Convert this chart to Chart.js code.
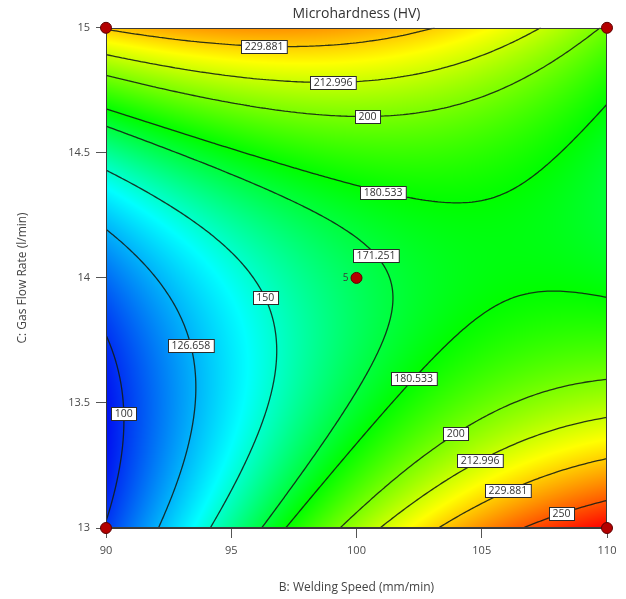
<!DOCTYPE html>
<html lang="en">
<head>
<meta charset="UTF-8">
<title>Microhardness (HV)</title>
<script src="https://cdn.jsdelivr.net/npm/chart.js"></script>
<style>
  html, body { margin: 0; padding: 0; background: #fff; }
  canvas { display: block; }
</style>
</head>
<body>
<canvas id="contourChart" width="626" height="599"></canvas>
<script>
// factor ranges and axis ticks
const speedRange = [90, 110];
const flowRange = [13, 15];
const speedTicks = [90, 95, 100, 105, 110];
const flowTicks = [13, 13.5, 14, 14.5, 15];

// fitted quadratic in coded units: [b0, B, C, BC, B^2, C^2]
const coeffs = [167.3, 32.8, 15.8, -49.1, -22.5, 54.0];

// contour levels
const levels = [100, 126.658, 150, 171.251, 180.533, 200, 212.996, 229.881, 250];

// design points and replicate counts
const designSpeed = [90, 110, 90, 110, 100];
const designFlow = [13, 13, 15, 15, 14];
const designCount = [1, 1, 1, 1, 5];

// rough spots for the level boxes (speed, flow), snapped onto the line later
const labelLevel = [229.881, 212.996, 200, 180.533, 171.251, 150, 126.658, 100, 180.533, 200, 212.996, 229.881, 250];
const labelSpeed = [96.3, 99.0, 100.4, 101.1, 100.96, 96.45, 93.4, 90.6, 102.07, 103.8, 104.8, 105.9, 108.05];
const labelFlow = [14.96, 14.81, 14.675, 14.38, 14.10, 13.93, 13.73, 13.45, 13.62, 13.40, 13.29, 13.18, 13.08];

// blue -> cyan -> green -> yellow -> red
const rampStops = [0, 0.29, 0.51, 0.75, 1];
const rampColors = [[0, 16, 240], [0, 255, 255], [0, 255, 0], [255, 255, 0], [255, 0, 0]];

const FONT = '"Segoe UI", "Open Sans", "Noto Sans", sans-serif';

function hardness(b, c) {
    const x = (b - 100) / 10, y = c - 14;
    const k = coeffs;
    return k[0] + k[1] * x + k[2] * y + k[3] * x * y + k[4] * x * x + k[5] * y * y;
}

function ramp(t) {
    t = Math.max(0, Math.min(1, t));
    let i = 0;
    while (i < rampStops.length - 2 && t > rampStops[i + 1]) i++;
    const f = (t - rampStops[i]) / (rampStops[i + 1] - rampStops[i]);
    const a = rampColors[i], b = rampColors[i + 1];
    return [a[0] + (b[0] - a[0]) * f, a[1] + (b[1] - a[1]) * f, a[2] + (b[2] - a[2]) * f];
}

// marching squares over a grid in data units
function contourSegments(level, n) {
    const segs = [];
    const bs = [], cs = [];
    for (let i = 0; i <= n; i++) {
        bs.push(speedRange[0] + (speedRange[1] - speedRange[0]) * i / n);
        cs.push(flowRange[0] + (flowRange[1] - flowRange[0]) * i / n);
    }
    const v = [];
    for (let j = 0; j <= n; j++) {
        v.push([]);
        for (let i = 0; i <= n; i++) v[j].push(hardness(bs[i], cs[j]));
    }
    const cross = (b1, c1, v1, b2, c2, v2) => {
        const t = (level - v1) / (v2 - v1);
        return [b1 + (b2 - b1) * t, c1 + (c2 - c1) * t];
    };
    for (let j = 0; j < n; j++) {
        for (let i = 0; i < n; i++) {
            const v00 = v[j][i], v10 = v[j][i + 1], v11 = v[j + 1][i + 1], v01 = v[j + 1][i];
            const pts = [];
            if ((v00 >= level) !== (v10 >= level)) pts.push(cross(bs[i], cs[j], v00, bs[i + 1], cs[j], v10));
            if ((v10 >= level) !== (v11 >= level)) pts.push(cross(bs[i + 1], cs[j], v10, bs[i + 1], cs[j + 1], v11));
            if ((v11 >= level) !== (v01 >= level)) pts.push(cross(bs[i + 1], cs[j + 1], v11, bs[i], cs[j + 1], v01));
            if ((v01 >= level) !== (v00 >= level)) pts.push(cross(bs[i], cs[j + 1], v01, bs[i], cs[j], v00));
            if (pts.length >= 2) segs.push([pts[0], pts[1]]);
            if (pts.length === 4) segs.push([pts[2], pts[3]]);
        }
    }
    return segs;
}

const surfacePlugin = {
    id: 'surface',
    beforeDatasetsDraw(chart) {
        const { ctx, chartArea: a, scales: { x, y } } = chart;
        const w = Math.round(a.right - a.left), h = Math.round(a.bottom - a.top);

        // shaded response surface
        const vals = new Float32Array(w * h);
        let lo = Infinity, hi = -Infinity;
        for (let j = 0; j < h; j++) {
            const c = y.getValueForPixel(a.top + j + 0.5);
            for (let i = 0; i < w; i++) {
                const val = hardness(x.getValueForPixel(a.left + i + 0.5), c);
                vals[j * w + i] = val;
                if (val < lo) lo = val;
                if (val > hi) hi = val;
            }
        }
        const off = document.createElement('canvas');
        off.width = w; off.height = h;
        const octx = off.getContext('2d');
        const img = octx.createImageData(w, h);
        for (let k = 0; k < w * h; k++) {
            const rgb = ramp((vals[k] - lo) / (hi - lo));
            img.data[k * 4] = rgb[0];
            img.data[k * 4 + 1] = rgb[1];
            img.data[k * 4 + 2] = rgb[2];
            img.data[k * 4 + 3] = 255;
        }
        octx.putImageData(img, 0, 0);
        ctx.save();
        ctx.drawImage(off, a.left, a.top, a.right - a.left, a.bottom - a.top);

        // contour lines
        ctx.beginPath();
        ctx.rect(a.left, a.top, a.right - a.left, a.bottom - a.top);
        ctx.clip();
        const lines = {};
        ctx.strokeStyle = 'rgba(18, 28, 20, 0.88)';
        ctx.lineWidth = 1.3;
        ctx.lineCap = 'round';
        levels.forEach(level => {
            const segs = contourSegments(level, 160).map(s => s.map(p => [x.getPixelForValue(p[0]), y.getPixelForValue(p[1])]));
            lines[level] = segs;
            ctx.beginPath();
            segs.forEach(s => { ctx.moveTo(s[0][0], s[0][1]); ctx.lineTo(s[1][0], s[1][1]); });
            ctx.stroke();
        });
        ctx.restore();

        // level value boxes
        ctx.save();
        ctx.font = '10.5px ' + FONT;
        ctx.textAlign = 'center';
        ctx.textBaseline = 'middle';
        labelLevel.forEach((level, i) => {
            const px = x.getPixelForValue(labelSpeed[i]), py = y.getPixelForValue(labelFlow[i]);
            let best = null, bestD = Infinity;
            (lines[level] || []).forEach(s => {
                const mx = (s[0][0] + s[1][0]) / 2, my = (s[0][1] + s[1][1]) / 2;
                const d = (mx - px) ** 2 + (my - py) ** 2;
                if (d < bestD) { bestD = d; best = [mx, my]; }
            });
            if (!best) return;
            const text = String(level);
            const tw = ctx.measureText(text).width + 7, th = 13;
            const bx = Math.round(best[0] - tw / 2) + 0.5, by = Math.round(best[1] - th / 2) + 0.5;
            ctx.fillStyle = '#ffffff';
            ctx.fillRect(bx, by, tw, th);
            ctx.strokeStyle = '#2b2b2b';
            ctx.lineWidth = 1;
            ctx.strokeRect(bx, by, tw, th);
            ctx.fillStyle = '#333333';
            ctx.fillText(text, best[0], best[1] + 0.5);
        });

        // plot frame
        ctx.strokeStyle = '#3a3a3a';
        ctx.lineWidth = 1;
        ctx.strokeRect(Math.round(a.left) + 0.5, Math.round(a.top) + 0.5, w - 1, h - 1);
        ctx.restore();
    },
    afterDatasetsDraw(chart) {
        // replicate count beside the design point
        const { ctx, scales: { x, y } } = chart;
        ctx.save();
        ctx.font = '10px ' + FONT;
        ctx.fillStyle = '#3a3a3a';
        ctx.textAlign = 'right';
        ctx.textBaseline = 'middle';
        designCount.forEach((n, i) => {
            if (n > 1) ctx.fillText(String(n), x.getPixelForValue(designSpeed[i]) - 8, y.getPixelForValue(designFlow[i]));
        });
        ctx.restore();
    }
};

new Chart(document.getElementById('contourChart'), {
    type: 'scatter',
    data: {
        datasets: [{
            label: 'Design points',
            data: designSpeed.map((b, i) => ({ x: b, y: designFlow[i] })),
            pointRadius: 5.5,
            pointHoverRadius: 5.5,
            backgroundColor: '#b40000',
            borderColor: '#5c0000',
            borderWidth: 1,
            clip: false
        }]
    },
    options: {
        responsive: false,
        animation: false,
        layout: { padding: { left: 0, right: 19, top: 0, bottom: 0 } },
        plugins: {
            legend: { display: false },
            tooltip: { enabled: false },
            title: {
                display: true,
                text: 'Microhardness (HV)',
                fullSize: false,
                color: '#333333',
                font: { family: FONT, size: 14, weight: 'normal' },
                padding: { top: 6, bottom: 5 }
            }
        },
        scales: {
            x: {
                type: 'linear',
                min: speedRange[0],
                max: speedRange[1],
                afterBuildTicks: s => { s.ticks = speedTicks.map(v => ({ value: v })); },
                afterFit: s => { s.height = 71; },
                ticks: { color: '#4a4a4a', font: { family: FONT, size: 11 }, padding: 6, maxRotation: 0, autoSkip: false, callback: v => String(v) },
                grid: { drawOnChartArea: false, drawTicks: true, tickLength: 10, color: '#555555' },
                border: { display: true, color: '#3a3a3a' },
                title: {
                    display: true,
                    text: 'B: Welding Speed (mm/min)',
                    color: '#444444',
                    font: { family: FONT, size: 12 },
                    padding: { top: 0, bottom: 4 }
                }
            },
            y: {
                type: 'linear',
                min: flowRange[0],
                max: flowRange[1],
                afterBuildTicks: s => { s.ticks = flowTicks.map(v => ({ value: v })); },
                afterFit: s => { s.width = 106; },
                ticks: { color: '#4a4a4a', font: { family: FONT, size: 11 }, padding: 6, autoSkip: false, callback: v => String(v) },
                grid: { drawOnChartArea: false, drawTicks: true, tickLength: 10, color: '#555555' },
                border: { display: true, color: '#3a3a3a' },
                title: {
                    display: true,
                    text: 'C: Gas Flow Rate (l/min)',
                    color: '#444444',
                    font: { family: FONT, size: 12 },
                    padding: { top: 15, bottom: 0 }
                }
            }
        }
    },
    plugins: [surfacePlugin]
});
</script>
</body>
</html>
